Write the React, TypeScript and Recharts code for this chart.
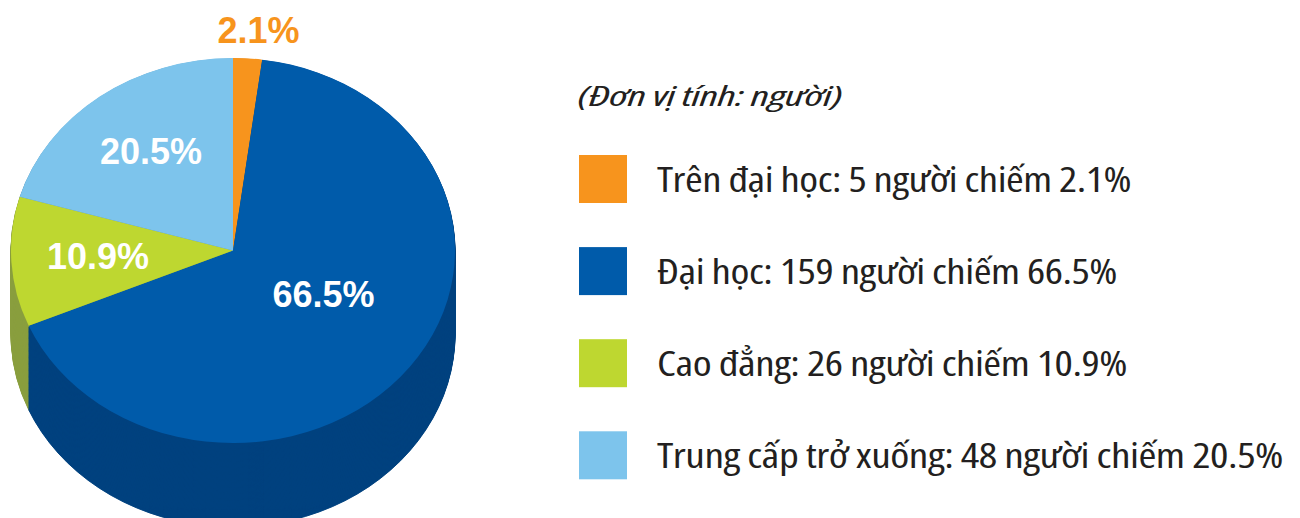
import React from 'react';
import { PieChart, Pie, Cell, Legend } from 'recharts';

// ---- data ----
const CATEGORIES = ['Trên đại học', 'Đại học', 'Cao đẳng', 'Trung cấp trở xuống'];
const COUNTS = [5, 159, 26, 48];
const PERCENTS = [2.1, 66.5, 10.9, 20.5];
const TITLE = '(Đơn vị tính: người)';
const UNIT = 'người';
const VERB = 'chiếm';

// ---- style ----
const TOP_COLORS = ['#F7941D', '#005BAA', '#BED730', '#7DC4EC'];
const SIDE_COLORS = ['#B86A10', '#00427F', '#8A9E3E', '#5A93B5'];
const TEXT_COLOR = '#231F20';

const K = 192.5 / 222; // vertical squash of the pie (tilt)
const CX = 233;
const CY = 250.5 / K;
const R = 222;
const DEPTH = 84 / K;
const STEPS = 97;
const LABEL_R = [1.148, 0.467, 0.609, 0.631];
const LABEL_DA = [-1.96, 8, -0.5, -1.1];
const LEGEND_TEXT_W = [474, 460, 470, 626];

const data = CATEGORIES.map((name, i) => ({ name, value: PERCENTS[i], count: COUNTS[i] }));

const offsets = Array.from({ length: STEPS }, (_, i) => (DEPTH * (STEPS - i)) / STEPS);

const renderLabel = (props: any) => {
  const { cx, cy, midAngle, outerRadius, index } = props;
  const a = ((midAngle + LABEL_DA[index]) * Math.PI) / 180;
  const r = outerRadius * LABEL_R[index];
  const x = cx + r * Math.cos(a);
  const y = cy - r * Math.sin(a);
  return (
    <g key={`lbl-${index}`} transform={`translate(${x},${y}) scale(1,${1 / K})`}>
      <text
        x={0}
        y={0}
        textAnchor="middle"
        dominantBaseline="central"
        fill={index === 0 ? TOP_COLORS[0] : '#FFFFFF'}
        style={{ fontFamily: '"Liberation Sans", Arial, sans-serif', fontWeight: 700, fontSize: 36 }}
      >
        {`${PERCENTS[index]}%`}
      </text>
    </g>
  );
};

const legendFont = {
  fontFamily: '"Open Sans", sans-serif',
  fontStretch: '87.5%',
  letterSpacing: '-0.4px',
} as React.CSSProperties;

const renderLegend = () => (
  <svg width={722} height={518} style={{ display: 'block', overflow: 'visible' }}>
    <text
      x={0}
      y={106}
      textLength={264}
      lengthAdjust="spacingAndGlyphs"
      fill={TEXT_COLOR}
      style={{ ...legendFont, fontStyle: 'italic', fontSize: 27 }}
    >
      {TITLE}
    </text>
    {CATEGORIES.map((name, i) => (
      <g key={name}>
        <rect x={1} y={155 + i * 92.1} width={48} height={48} fill={TOP_COLORS[i]} />
        <text
          x={79}
          y={191.7 + i * 92.1}
          textLength={LEGEND_TEXT_W[i]}
          lengthAdjust="spacingAndGlyphs"
          fill={TEXT_COLOR}
          style={{ ...legendFont, fontSize: 34 }}
        >
          {`${name}: ${COUNTS[i]} ${UNIT} ${VERB} ${PERCENTS[i]}%`}
        </text>
      </g>
    ))}
  </svg>
);

export default function App() {
  return (
    <div style={{ position: 'absolute', left: 0, top: 0, width: 1300, height: 518, overflow: 'hidden', background: '#fff' }}>
      <style>{`.pie3d svg.recharts-surface { transform: scaleY(${K}); transform-origin: 0 0; }`}</style>
      <PieChart className="pie3d" width={1300} height={620} margin={{ top: 0, right: 0, bottom: 0, left: 0 }}>
        {offsets.map((d, j) => (
          <Pie
            key={`side-${j}`}
            data={data}
            dataKey="value"
            nameKey="name"
            cx={CX}
            cy={CY + d}
            outerRadius={R}
            startAngle={90}
            endAngle={-270}
            isAnimationActive={false}
            legendType="none"
            label={false}
            labelLine={false}
          >
            {data.map((e, i) => (
              <Cell key={e.name} fill={SIDE_COLORS[i]} stroke={SIDE_COLORS[i]} strokeWidth={1} />
            ))}
          </Pie>
        ))}
        <Pie
          data={data}
          dataKey="value"
          nameKey="name"
          cx={CX}
          cy={CY}
          outerRadius={R}
          startAngle={90}
          endAngle={-270}
          isAnimationActive={false}
          label={renderLabel}
          labelLine={false}
          stroke="none"
        >
          {data.map((e, i) => (
            <Cell key={e.name} fill={TOP_COLORS[i]} stroke="none" />
          ))}
        </Pie>
        <Legend
          layout="vertical"
          align="right"
          verticalAlign="top"
          wrapperStyle={{ left: 578, right: 'auto', top: 0, bottom: 'auto', width: 722, height: 518 }}
          content={renderLegend}
        />
      </PieChart>
    </div>
  );
}
